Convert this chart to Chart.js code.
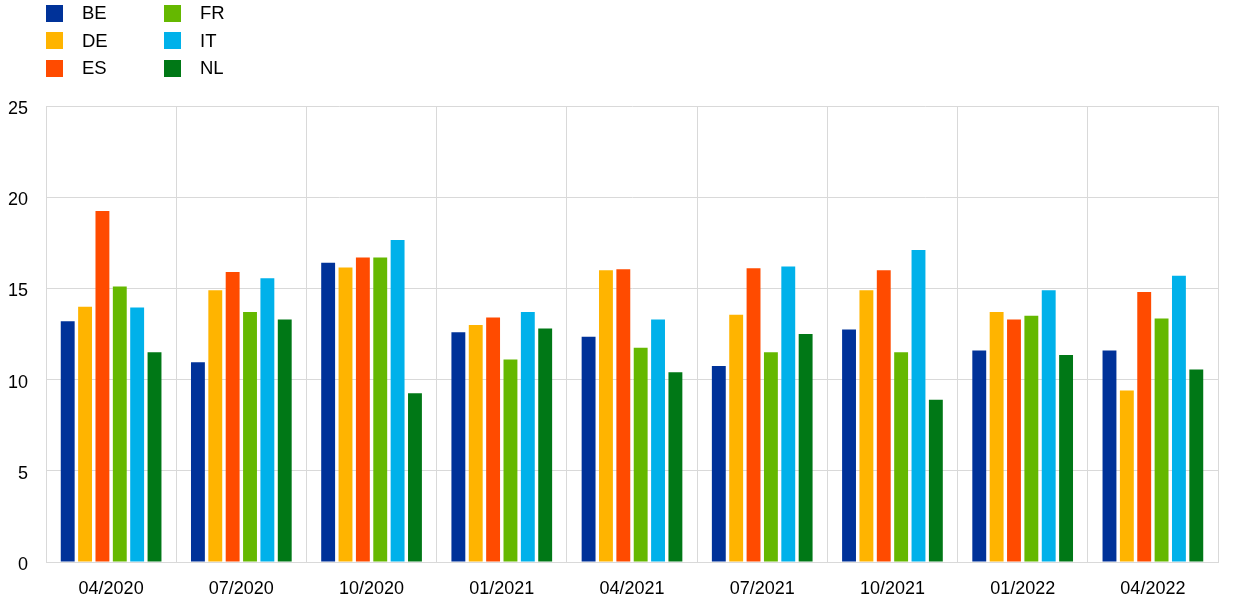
<!DOCTYPE html>
<html>
<head>
<meta charset="utf-8">
<script src="https://cdn.jsdelivr.net/npm/chart.js@4.4.0/dist/chart.umd.min.js"></script>
<style>
  html, body { margin: 0; padding: 0; background: #fff; }
  #wrap { position: relative; width: 1240px; height: 612px; }
  #chart { display: block; }
  #legend {
    position: absolute; left: 46px; top: 4px;
    display: grid; grid-template-columns: 118px 120px; grid-auto-flow: column;
    grid-template-rows: repeat(3, 27.5px);
    font-family: "Liberation Sans", Arial, sans-serif; font-size: 18.5px; color: #000;
  }
  .item { display: flex; align-items: center; height: 18px; }
  .box { width: 17px; height: 17px; margin-right: 19px; }
</style>
</head>
<body>
<div id="wrap">
  <canvas id="chart" width="1240" height="612"></canvas>
  <div id="legend"></div>
</div>
<script>
const labels = ["04/2020", "07/2020", "10/2020", "01/2021", "04/2021", "07/2021", "10/2021", "01/2022", "04/2022"];
const seriesNames = ["BE", "DE", "ES", "FR", "IT", "NL"];
const colors = ["#003299", "#FFB400", "#FF4B00", "#65B800", "#00B1EA", "#007816"];

const BE = [13.2, 10.95, 16.4, 12.6, 12.35, 10.75, 12.75, 11.6, 11.6];
const DE = [14.0, 14.9, 16.15, 13.0, 16.0, 13.55, 14.9, 13.7, 9.4];
const ES = [19.25, 15.9, 16.7, 13.4, 16.05, 16.1, 16.0, 13.3, 14.8];
const FR = [15.1, 13.7, 16.7, 11.1, 11.75, 11.5, 11.5, 13.5, 13.35];
const IT = [13.95, 15.55, 17.65, 13.7, 13.3, 16.2, 17.1, 14.9, 15.7];
const NL = [11.5, 13.3, 9.25, 12.8, 10.4, 12.5, 8.9, 11.35, 10.55];

const values = [BE, DE, ES, FR, IT, NL];

const datasets = seriesNames.map((name, i) => ({
  label: name,
  data: values[i],
  backgroundColor: colors[i],
  borderWidth: 0,
  barPercentage: 0.8,
  categoryPercentage: 0.8
}));

// legend, two columns
const legend = document.getElementById("legend");
seriesNames.forEach((name, i) => {
  const d = document.createElement("div");
  d.className = "item";
  d.innerHTML = '<span class="box" style="background:' + colors[i] + '"></span>' + name;
  legend.appendChild(d);
});

const font = { family: "'Liberation Sans', Arial, sans-serif", size: 18 };

new Chart(document.getElementById("chart"), {
  type: 'bar',
  data: { labels, datasets },
  options: {
    responsive: false,
    animation: false,
    layout: { padding: { top: 106, right: 22, left: 2, bottom: 0 } },
    plugins: {
      legend: { display: false },
      tooltip: { enabled: false }
    },
    scales: {
      y: {
        min: 0, max: 25,
        ticks: { stepSize: 5, color: '#000', font, padding: 18, labelOffset: 3 },
        grid: { color: '#d9d9d9', drawTicks: false },
        border: { color: '#d9d9d9' },
        afterFit: s => { s.width = 44; }
      },
      x: {
        ticks: { color: '#000', font, padding: 16 },
        grid: { color: '#d9d9d9', drawTicks: false, offset: true },
        border: { color: '#d9d9d9' },
        afterFit: s => { s.height = 50; }
      }
    }
  }
});
</script>
</body>
</html>
